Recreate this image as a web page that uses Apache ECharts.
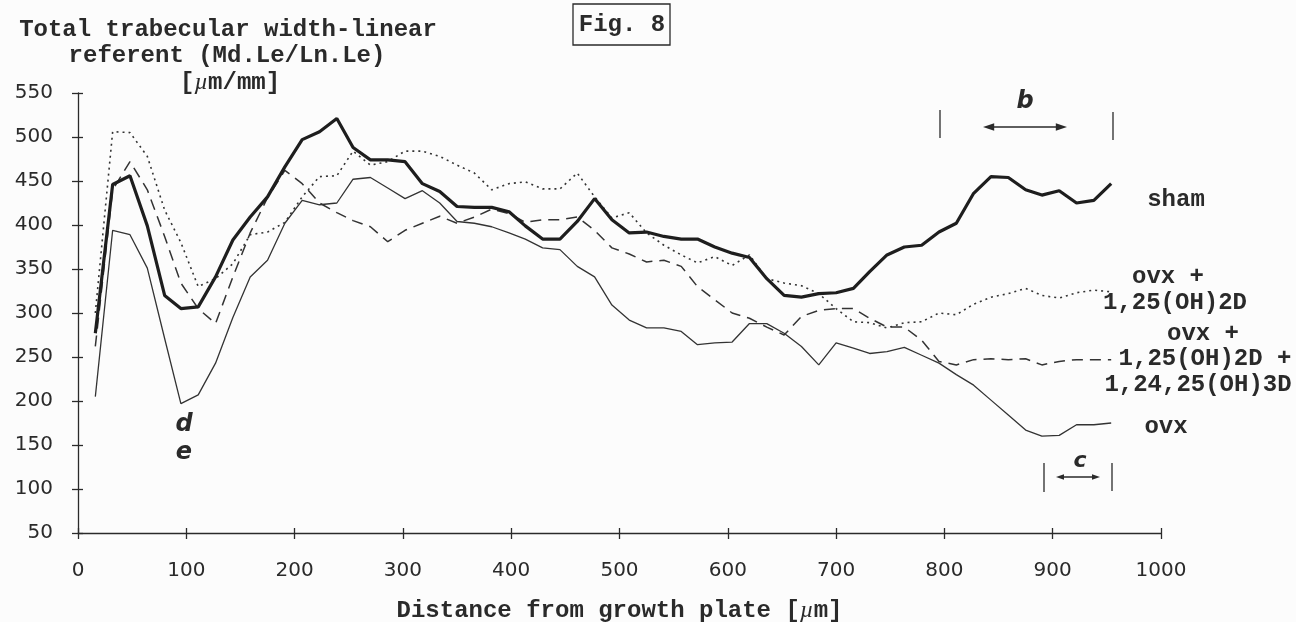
<!DOCTYPE html>
<html>
<head>
<meta charset="utf-8">
<script src="https://cdn.jsdelivr.net/npm/echarts@6/dist/echarts.min.js"></script>
<style>
html,body{margin:0;padding:0;background:#fcfcfc;}
#chart{width:1296px;height:622px;}
</style>
</head>
<body>
<div id="chart"></div>
<script>
// Distance from growth plate [µm]
const distance = [16,32,48,64,80,95,111,127,143,159,175,191,207,223,239,254,270,286,302,318,334,350,366,382,398,413,429,445,461,477,493,509,525,541,557,572,588,604,620,636,652,668,684,700,716,731,747,763,779,795,811,827,843,859,875,890,906,922,938,954];

const sham = [277,446,456,399,320,305,307,341,383,409,432,466,497,506,521,488,474,474,472,447,438,421,420,420,415,399,384,384,404,430,406,391,392,387,384,384,375,368,363,339,320,318,322,323,328,347,366,375,377,392,402,436,455,454,440,434,439,425,428,447];

const ovxD = [300,506,505,478,417,380,330,339,356,389,392,403,432,455,456,484,468,472,484,484,478,468,459,440,447,449,441,441,459,432,408,414,391,377,366,357,364,354,366,339,334,331,322,305,290,289,283,289,290,300,298,310,318,322,328,320,317,323,326,324];

const ovxDD = [262,440,472,440,387,334,305,288,341,391,431,462,447,425,414,405,398,381,394,402,410,402,409,418,413,403,406,406,409,394,374,367,358,360,353,330,315,300,294,284,275,296,303,305,305,294,284,284,269,245,241,247,248,247,248,241,245,247,247,247];

const ovx = [205,394,389,351,271,197,207,243,295,341,360,402,428,423,425,452,454,442,430,439,425,404,402,398,391,384,374,372,353,341,309,292,283,283,279,264,266,267,288,288,277,262,241,266,260,254,256,261,252,243,230,218,201,184,167,160,161,173,173,175];

const yTicks = {min: 50, max: 550, interval: 50};
const xTicks = {min: 0, max: 1000, interval: 100};

const pairs = arr => arr.map((v, i) => [distance[i], v]);

const ink = '#2a2a2a';
const mono = '"Liberation Mono", "Courier New", monospace';
const sans = '"DejaVu Sans", sans-serif';

const chart = echarts.init(document.getElementById('chart'), null, {renderer: 'canvas'});

function txt(text, x, y, opts) {
  return {
    type: 'text', x: x, y: y,
    style: Object.assign({
      text: text, fill: ink, font: 'bold 24px ' + mono,
      textAlign: 'center', textVerticalAlign: 'middle'
    }, opts || {})
  };
}
function vbar(x, y1, y2) {
  return {type: 'line', shape: {x1: x, y1: y1, x2: x, y2: y2}, style: {stroke: ink, lineWidth: 1.3}};
}
function arrow(x1, x2, y, head) {
  return [
    {type: 'line', shape: {x1: x1 + head, y1: y, x2: x2 - head, y2: y}, style: {stroke: ink, lineWidth: 1.5}},
    {type: 'polygon', shape: {points: [[x1, y], [x1 + head * 1.6, y - head * 0.55], [x1 + head * 1.6, y + head * 0.55]]}, style: {fill: ink}},
    {type: 'polygon', shape: {points: [[x2, y], [x2 - head * 1.6, y - head * 0.55], [x2 - head * 1.6, y + head * 0.55]]}, style: {fill: ink}}
  ];
}

const axisCommon = {
  type: 'value',
  splitLine: {show: false},
  axisLine: {show: true, lineStyle: {color: ink, width: 1.3}},
  axisTick: {show: true, length: 6, lineStyle: {color: ink, width: 1.3}}
};

const option = {
  backgroundColor: '#fcfcfc',
  animation: false,
  grid: {left: 78, right: 135, top: 93, bottom: 89, containLabel: false, outerBoundsMode: 'none'},
  xAxis: [
    Object.assign({}, axisCommon, {
      min: xTicks.min, max: xTicks.max, interval: xTicks.interval,
      axisLabel: {color: ink, fontFamily: sans, fontSize: 20, margin: 28, formatter: v => String(v)},
      name: '{b|Distance from growth plate [}{m|µ}{b|m]}',
      nameLocation: 'middle', nameGap: 66,
      nameTextStyle: {
        rich: {
          b: {fontFamily: mono, fontWeight: 'bold', fontSize: 24, color: ink},
          m: {fontFamily: 'serif', fontStyle: 'italic', fontSize: 24, color: ink}
        }
      }
    }),
    Object.assign({}, axisCommon, {
      min: xTicks.min, max: xTicks.max, interval: xTicks.interval,
      position: 'bottom',
      axisLine: {show: false},
      axisLabel: {show: false},
      axisTick: {show: true, inside: true, length: 5, lineStyle: {color: ink, width: 1.3}}
    })
  ],
  yAxis: [
    Object.assign({}, axisCommon, {
      min: yTicks.min, max: yTicks.max, interval: yTicks.interval,
      axisLabel: {color: ink, fontFamily: sans, fontSize: 20, margin: 25, formatter: v => String(v)}
    }),
    Object.assign({}, axisCommon, {
      min: yTicks.min, max: yTicks.max, interval: yTicks.interval,
      position: 'left',
      axisLine: {show: false},
      axisLabel: {show: false},
      axisTick: {show: true, inside: true, length: 5, lineStyle: {color: ink, width: 1.3}}
    })
  ],
  series: [
    {name: 'sham', type: 'line', data: pairs(sham), showSymbol: false, symbol: 'none',
     lineStyle: {color: '#1e1e1e', width: 3.2}, z: 5},
    {name: 'ovx + 1,25(OH)2D', type: 'line', data: pairs(ovxD), showSymbol: false, symbol: 'none',
     lineStyle: {color: '#333', width: 1.6, type: [2, 4]}},
    {name: 'ovx + 1,25(OH)2D + 1,24,25(OH)3D', type: 'line', data: pairs(ovxDD), showSymbol: false, symbol: 'none',
     lineStyle: {color: '#333', width: 1.5, type: [11, 7]}},
    {name: 'ovx', type: 'line', data: pairs(ovx), showSymbol: false, symbol: 'none',
     lineStyle: {color: '#333', width: 1.3}}
  ],
  graphic: [].concat([
    // y-axis title
    txt('Total trabecular width-linear', 228, 30),
    txt('referent (Md.Le/Ln.Le)', 227, 56),
    {type: 'text', x: 230, y: 83, style: {
      text: '{b|[}{m|µ}{b|m/mm]}', textAlign: 'center', textVerticalAlign: 'middle',
      rich: {
        b: {font: 'bold 24px ' + mono, fill: ink},
        m: {font: 'italic 24px serif', fill: ink}
      }
    }},
    // Fig. 8 box
    {type: 'rect', shape: {x: 573, y: 4, width: 97, height: 41}, style: {fill: 'none', stroke: ink, lineWidth: 1.3}},
    txt('Fig. 8', 622, 25),
    // right labels
    txt('sham', 1176, 200),
    txt('ovx +', 1168, 277),
    txt('1,25(OH)2D', 1175, 303),
    txt('ovx +', 1203, 334),
    txt('1,25(OH)2D +', 1205, 359),
    txt('1,24,25(OH)3D', 1198, 385),
    txt('ovx', 1166, 427),
    // annotation b
    txt('b', 1025, 102, {font: 'italic 900 24px "DejaVu Sans", sans-serif'}),
    vbar(940, 110, 138),
    vbar(1113, 112, 140),
    // annotation c
    txt('c', 1080, 461, {font: 'italic 900 22px "DejaVu Sans", sans-serif'}),
    vbar(1044, 463, 492),
    vbar(1112, 463, 491),
    // d, e
    txt('d', 184, 425, {font: 'italic 900 24px "DejaVu Sans", sans-serif'}),
    txt('e', 184, 453, {font: 'italic 900 24px "DejaVu Sans", sans-serif'})
  ], arrow(983, 1067, 127, 7), arrow(1056, 1100, 477, 5))
};

chart.setOption(option);
</script>
</body>
</html>
